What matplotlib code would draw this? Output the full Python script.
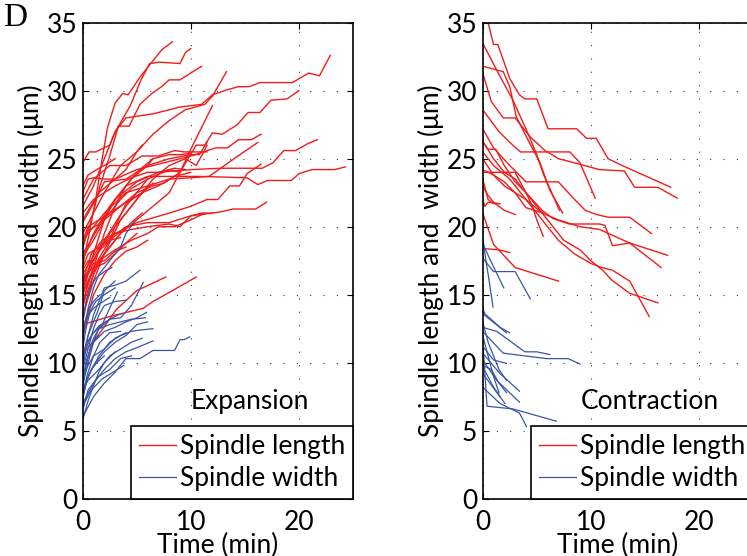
import matplotlib
matplotlib.use('Agg')
import matplotlib.pyplot as plt

plt.rcParams['font.family'] = ['Lato', 'DejaVu Sans']
plt.rcParams['font.size'] = 19

# traces: each trace is a list of (time min, value um)
exp_length = [
    [(0,17.2),(0.6,19.5),(1.2,22),(1.8,25),(2.3,27.3),(3.0,29.1),(3.7,29.8),(4.2,29.7),(5.3,31),(6.4,32.1),(7.3,33),(8.3,33.6)],
    [(0,24.7),(0.6,25.5),(1.2,25.5),(2.5,26),(3.1,27.1),(4.4,28.9),(5.4,30.8),(6.2,32),(7.1,32.1),(9,32),(9.5,32.8),(10,33.1)],
    [(0,18.5),(0.8,20.5),(1.6,23),(2.5,25.2),(3.3,27.4),(4.3,27.4),(5.3,29),(6.4,29.8),(7.3,30.3),(8,30.8),(9,30.8),(10,31.3),(11,31.8)],
    [(0,21.5),(1,23),(2,25),(3,27),(4,28),(6.5,28.3),(9,28.8),(11,29),(12,29.7),(13.3,30.05),(14.4,30.3),(15.4,30.3),(16.4,30.6),(19.4,30.6),(20.9,31.3),(21.9,31.1),(22.9,32.6)],
    [(0,19.5),(1,21),(2,22.5),(3.5,24.5),(5,25.5),(6.5,26.8),(8,27.8),(9.5,28.6),(11.3,29),(12,29.6),(13.3,31.4)],
    [(0,16),(2,19),(4,21.5),(6,23.5),(8,24.2),(9,24),(10.5,26),(11.3,26),(12,26.9),(12.9,26.8),(14.3,27.5),(15.3,28.4),(16.4,28.4),(17.4,29.3),(18.9,29.4),(20,30.0)],
    [(0,18),(1.5,20),(3,22),(5,23.3),(7,24),(10,24.2),(12.7,24.3),(16.6,24.3),(17.6,24.7),(18.6,25.6),(19.7,25.6),(20.8,26.1),(21.7,26.4)],
    [(0,17.5),(1,19.5),(2.5,21.5),(4,23),(6,23.7),(10.8,23.7),(15.2,23.6),(16.2,23.1),(17.1,23.4),(19.3,23.4),(20,23.9),(21.2,24.2),(23.3,24.2),(24.3,24.4)],
    [(0,15),(1,17),(2.5,19),(4,20),(6,20.3),(8,20.3),(10,20.8),(12,21),(12.8,21.1),(13.9,21.3),(16,21.3),(17,21.8)],
    [(0,20.5),(1.5,22.5),(3,23.5),(5,24.2),(8,24.8),(10,25.2),(12.3,25.8),(13.4,25.8),(14.4,26.4),(15.6,26.4),(16.5,26.8)],
    [(0,19),(2,21),(4,22.5),(6,23),(8,23.5),(10,23.6),(11.7,23.7),(14,25),(16.2,26.2)],
    [(0,16.5),(1.5,18.5),(3,19.5),(5,20.3),(8,21),(10,21.5),(11.5,22),(12.5,22),(13.6,23),(14.5,23),(15.2,23.9),(16.5,24.6)],
    [(0,14.5),(1,17),(2,19.5),(3,21.5),(4,23),(5,24),(6.5,25),(8,25.3),(9,25.3),(10,25.4)],
    [(0,15.5),(1,18),(2,20.5),(3,22),(4.5,23.5),(6,24.5),(8,25),(10,25.3),(10.8,25.3),(11.5,26.2)],
    [(0,13.5),(1,16),(2,18),(3.5,20.5),(5,22),(6.5,23.5),(8,24.5),(9.5,25),(10.5,24.5),(11.2,25.5),(11.5,26)],
    [(0,22),(1,23.5),(2.5,24.5),(4,24.5),(5.5,25.2),(7,25.2),(8.5,25.6),(9.4,25.5),(10.3,25.5),(11.5,25.5)],
    [(0,21),(1,22),(2,22.5),(3,23),(4.5,23.6),(6,24),(7,24),(8.5,24.3),(9.5,24.2)],
    [(0,17.8),(1,19),(2,20.5),(3.5,21.5),(5,22.5),(6.5,23),(7.5,23.2),(9,24)],
    [(0,18.5),(0.5,19.7),(1.5,20.2),(2.5,21),(3.5,22),(4.5,22.8),(6,23.5)],
    [(0,15.5),(0.7,17.2),(1.5,18.2),(2.5,19.5),(3.5,20.5),(4.5,21.5),(5.5,22.5),(6.5,23.2)],
    [(0,19),(0.5,20),(1.5,20.5),(2.5,21),(4,21.8),(5.5,22.5),(7,23),(8.5,23.7),(10,24)],
    [(0,16),(0.8,18),(1.8,19),(3,19.5),(4.5,19.8),(6,20),(8,20.2),(9,20),(10,20.8),(11,21),(12,21)],
    [(0,14),(0.5,16),(1.5,17.5),(3,18.3),(4.5,19),(6,19.5),(7,20),(8.5,20),(10,20.5),(11.3,21)],
    [(0,12.8),(2.5,13.4),(5.6,14),(6.5,14.5),(8.3,15.3),(10.5,16.3)],
    [(0,10.6),(1.6,12.2),(3.1,13.9),(5,15.3),(7.7,16.3)],
    [(0,11.8),(0.5,13.5),(1,15),(2,16.5),(3,17.5),(4,18.2),(5,18.5),(6,19)],
    [(0,13),(0.5,15),(1,16.5),(1.5,17.5),(2.5,18.5),(3.5,19.5),(4.5,20.3),(5.5,21)],
    [(0,20.3),(0.5,21),(1.2,22),(2,23.3),(3,23.4),(4,23.5),(5,24),(6,24.5),(6.5,25)],
    [(0,23),(0.5,23.8),(1.5,24.3),(2,24.5),(3,25)],
    [(0,17),(0.5,18),(1.5,18.5),(2.5,19),(3.5,19.2)],
    [(0,15),(0.5,16.5),(1,17.3),(2,17.5),(3,18.2),(4,18.5)],
    [(0,14.2),(1,16.5),(2,18),(3.5,19.5),(5,20.5),(6.5,21.5),(8,22.5),(9,24),(10,25.7),(11,27.3),(12,28.9)],
    [(0,22.5),(0.5,23.5),(1,23.6),(2,23.5),(3,23.5),(4,24.2),(5,25.5),(5.5,26)],
    [(0,16.8),(0.5,17.5),(1,17.5),(1.5,18.2),(2.5,19),(3,20),(4,21.7),(5.5,22.5)],
    [(0,15.2),(0.3,16.5),(1,17),(2,17.3),(3,18),(4,18.8),(5,19.5)],
]

exp_width = [
    [(0,12),(0.5,14),(1,15.5),(1.5,16.5),(2,17),(2.5,17.5),(3,18),(3.5,18.5),(4,19.5),(4.8,20.4)],
    [(0,10),(0.5,12),(1,13.5),(1.5,14.5),(2,15.5),(3,15.7),(4,16),(5.3,16.8)],
    [(0,9.5),(0.5,11),(1,12.5),(1.5,13.5),(2,14.2),(3,14.5),(4.05,14.6)],
    [(0,8.8),(0.7,11),(1.5,12.5),(2.5,13.2),(3.5,13.3),(4.5,14.2),(5.6,15.9)],
    [(0,7.5),(0.5,9),(1.5,10.5),(2.5,11.5),(3.5,12),(4.5,12.3),(5.3,12.4),(6.5,12.5)],
    [(0,7),(1,8.5),(2,9.5),(3,10.3),(4,10.8),(5,11.1),(6.5,11.6)],
    [(0,6),(1,7.5),(2,8.5),(3,9.3),(4,10.3),(5.3,10.3),(6.5,10.9),(8.5,10.9),(9,11.7),(9.4,11.7),(9.9,11.9)],
    [(0,8.3),(0.5,10),(1,11.5),(2,12.3),(3,12.6),(4,13),(5,13.3),(5.9,13.7)],
    [(0,9),(0.5,10.5),(1,11.8),(1.5,12.5),(2.5,12.8),(3.5,13),(4.5,13.2),(5.8,13.3)],
    [(0,11),(0.3,12.5),(0.7,13.8),(1.2,14.5),(2,15),(3,15.5)],
    [(0,13),(0.3,14.5),(0.7,15.5),(1.2,16.2),(2,16.7),(2.7,17)],
    [(0,10.5),(0.5,12),(1,13),(1.5,14),(2,15.3),(3,16)],
    [(0,7.8),(0.5,9.3),(1,10.5),(1.6,11.5),(2.5,12.2),(3.5,12.3)],
    [(0,6.5),(0.5,8),(1.5,9),(2.5,9.5),(3.5,10.3),(4.5,10.5)],
    [(0,8),(0.5,8.7),(1.5,9.5),(2.5,10.5),(3.5,11),(4.5,11.5),(5.5,11.8)],
    [(0,9.5),(0.3,11),(0.8,12),(1.5,12.7),(2.5,13.2),(3.5,13.6)],
    [(0,12.5),(0.5,13.5),(1,14),(1.5,14.3),(2.5,14.8)],
    [(0,5.8),(0.5,7.2),(1,8.3),(1.5,9.3),(2,10),(3,10.8)],
    [(0,7.2),(0.3,8.5),(0.8,9.5),(1.3,10),(2,10.5)],
    [(0,8.5),(0.3,10),(0.7,11),(1,11.5),(1.5,12)],
    [(0,11.5),(0.2,13),(0.6,14),(1,14.5),(1.6,15)],
    [(0,9),(0.5,9.8),(1,10.5),(2,11),(3,11.8),(4,12.2)],
    [(0,6.8),(0.8,8),(1.8,8.8),(2.8,9.3),(3.8,9.8)],
    [(0,10.2),(0.4,11.5),(1,12.2),(1.8,12.8),(2.5,14),(3.2,15.2)],
    [(0,7.5),(0.4,8.8),(1,9.8),(2,10.8),(3,11.5),(4,12),(5,12.8),(6,13)],
]

con_length = [
    [(0.5,35),(1,33.4),(1.4,33.4),(2.5,30.9),(3.4,29.7),(3.9,29.4),(5,29.4),(6.05,27.2),(8.7,27.2),(9.6,26.5),(10.5,26.5),(11.6,25),(12.9,24.5),(17.4,22.9)],
    [(0,33.5),(1.3,31.5),(2.8,29.3),(4.05,27.1),(5.0,25.3),(5.6,23.9),(7.1,21.2)],
    [(0,31.8),(1.9,31.4),(2.5,30.3),(3.1,28.1),(4.05,26.6),(5.3,24.7),(6.2,22.7),(7.4,21.0)],
    [(0,31.3),(0.8,29.2),(1.9,28),(3,28),(4.4,26.6),(5.9,25.5),(8.05,25.5),(9,24.7),(10.4,22.1)],
    [(0,28.6),(1.5,27),(2.5,26.2),(3.5,25.5),(6,25.5),(7,25),(8,24.8),(10.8,24.2),(13.1,24.1),(14.05,22.9),(16.2,22.9),(18,22.1)],
    [(0,26.3),(1,25),(2,24),(3,23.5),(4,22.5),(4.6,21.5),(5.0,20.5),(5.6,19.3)],
    [(0,27.2),(1,25.8),(2.5,24.5),(4,23.3),(5.5,23.3),(7,23.3),(8.5,22),(9.5,21.2),(10.5,20.9),(11.6,20.7),(13.6,20.7),(15.6,19.5)],
    [(0,26.2),(0.5,25.7),(1.2,25.7),(2,24.5),(3,23.3),(4,22.5),(5.5,21.2),(6.5,20.6),(8,20.2),(9.5,20.2),(10.8,20.2),(11.3,20.1),(12,18.6),(13.6,18.8),(17.1,17.9)],
    [(0,24.2),(1,23.8),(2,23),(3,22.5),(4,22),(5.5,21),(7,20.5),(9,20),(10.8,19.8),(13.6,18.8),(16.5,17)],
    [(0,24),(1.5,24),(3,24),(4,22.5),(5,21.5),(6,20.5),(7.5,19),(9,18.3),(10,17.5),(11.1,16.8),(11.9,16.1),(13.6,15.1),(16.2,14.4)],
    [(0,25.5),(1,24.5),(2.5,23.5),(4,22),(5.5,20.5),(7,19),(8.5,18),(10,17.3),(11,17),(12,16.8),(13.6,16),(15.4,13.4)],
    [(0,23.5),(0.5,22),(1,21.7),(1.6,21.7)],
    [(0,21),(1,18.7),(3,17),(7,16)],
    [(0,18.4),(1.5,18.3),(2.5,18.1)],
    [(0,25),(1,23.8),(2,23.3),(3,22.5),(4,21.4),(5.6,21)],
    [(0,23),(0.5,22.3),(1,21.8),(2,21.2),(3,20.9)],
    [(0,22),(0.2,21.5),(0.5,21.8),(1.5,21.7)],
]

con_width = [
    [(0,19.2),(0.3,17.5),(0.6,16),(0.95,14.1)],
    [(0,17.7),(1,16.7),(3,16.7),(4.4,14.7)],
    [(0,18.8),(0.67,17.6),(1.95,15.5)],
    [(0,13.6),(2.2,12.2)],
    [(0,12.6),(1.3,12.3),(3.9,10.8),(5,10.8),(6.2,10.6)],
    [(0,12.3),(1.9,10.7),(5.9,10.3),(7.9,10.3),(9,9.9)],
    [(0,11.2),(1,10.2),(2.2,9.95)],
    [(0,10.7),(1.6,9.2),(3.4,7.9)],
    [(0,10.2),(1.3,8.7),(3.4,7.1)],
    [(0,9.7),(1,8.2),(2.05,7.0)],
    [(0,9.2),(1.6,7.5)],
    [(0,11.7),(0.4,6.8),(2.8,6.6),(6.8,5.7)],
    [(0,8.2),(1.6,7.0),(3.4,6.3),(4.05,5.3)],
    [(0,14),(0.2,13.6),(1.6,12.6),(2.5,12.2)],
    [(0,13),(0.5,11.5),(1,10.5),(1.5,9.5),(2.2,8.7)],
    [(0,12),(0.5,10.5),(1,9),(1.5,7.8)],
    [(0,9.8),(0.8,9.5),(1.5,8.5),(2.2,7.8)],
]

RED = '#f01c1c'
BLUE = '#3a55a6'

fig = plt.figure(figsize=(7.47, 5.56), dpi=100)
ax1 = fig.add_axes([0.1107, 0.1031, 0.3618, 0.856])
ax2 = fig.add_axes([0.6462, 0.1031, 0.3618, 0.856])


def draw(ax, lengths, widths, name):
    for i, tr in enumerate(lengths):
        t, v = zip(*tr)
        ax.plot(t, v, color=RED, lw=1.0, label='Spindle length' if i == 0 else None)
    for i, tr in enumerate(widths):
        t, v = zip(*tr)
        ax.plot(t, v, color=BLUE, lw=0.9, label='Spindle width' if i == 0 else None)
    ax.set_xlim(0, 25)
    ax.set_ylim(0, 35)
    ax.set_xticks([0, 10, 20])
    ax.set_yticks(range(0, 36, 5))
    ax.grid(True, color='0.25', linestyle=(0, (1, 11)), lw=0.8)
    ax.tick_params(direction='in', length=4, top=True, right=True, pad=4)
    ax.tick_params(axis='x', pad=8)
    for s in ax.spines.values():
        s.set_linewidth(1.2)
    ax.set_xlabel('Time (min)', labelpad=-1)
    ax.set_ylabel('Spindle length and  width (\u03bcm)', labelpad=2)
    ax.text(0.62, 0.205, name, transform=ax.transAxes, ha='center', va='center')
    leg = ax.legend(loc='lower right', borderaxespad=0, fancybox=False,
                    edgecolor='black', framealpha=1, handlelength=1.4,
                    handletextpad=0.15, borderpad=0.3, labelspacing=0.25)
    leg.get_frame().set_linewidth(1.2)


draw(ax1, exp_length, exp_width, 'Expansion')
draw(ax2, con_length, con_width, 'Contraction')

fig.text(0.004, 0.995, 'D', family='Liberation Serif', fontsize=24, va='top', ha='left')

fig.savefig('out.png', dpi=100)
